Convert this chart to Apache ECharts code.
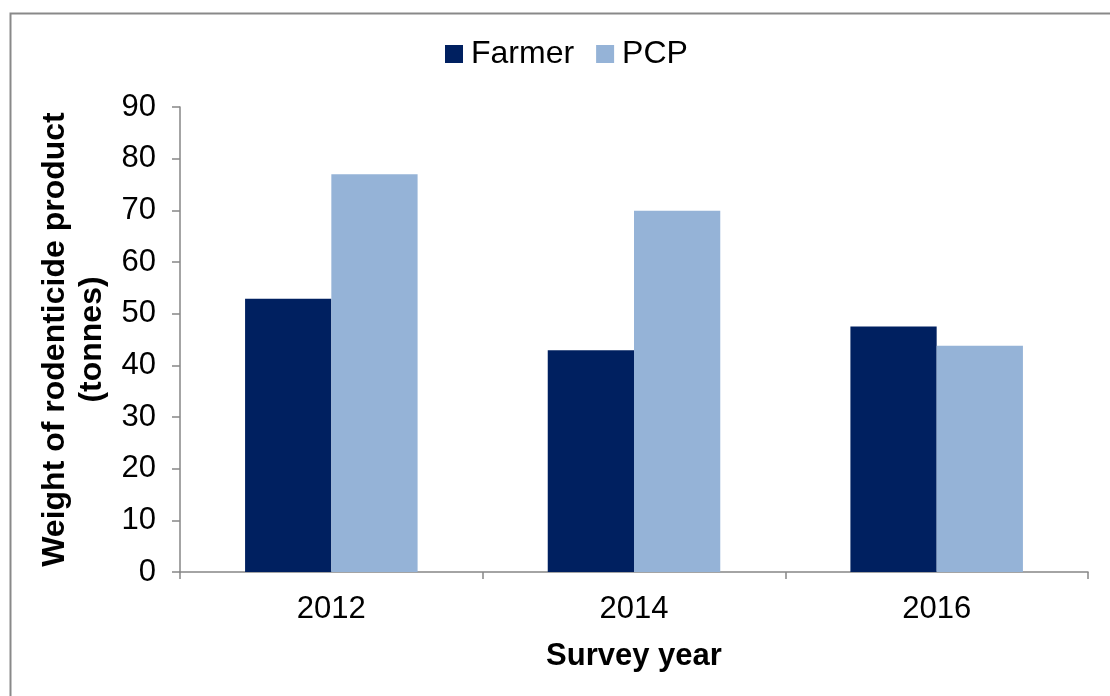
<!DOCTYPE html>
<html>
<head>
<meta charset="utf-8">
<script src="https://cdn.jsdelivr.net/npm/echarts@6/dist/echarts.min.js"></script>
<style>
html,body{margin:0;padding:0;background:#fff;}
#chart{width:1110px;height:696px;}
</style>
</head>
<body>
<div id="chart"></div>
<script>
const categories = ['2012', '2014', '2016'];
const farmer = [52.9, 42.9, 47.5];
const pcp = [77.0, 69.9, 43.8];
const seriesNames = ['Farmer', 'PCP'];
const yTitle = 'Weight of rodenticide product\n(tonnes)';
const xTitle = 'Survey year';

const chart = echarts.init(document.getElementById('chart'));
const font = 'Arial, "Liberation Sans", sans-serif';
chart.setOption({
  animation: false,
  backgroundColor: '#ffffff',
  textStyle: { fontFamily: font },
  graphic: [{
    type: 'rect', left: 8, top: 11, silent: true, z: -1,
    shape: { width: 1120, height: 720 },
    style: { fill: 'none', stroke: '#898989', lineWidth: 2 }
  }],
  legend: {
    top: 33, left: 440,
    itemWidth: 18, itemHeight: 18, itemGap: 22,
    icon: 'rect',
    textStyle: { fontSize: 32, color: '#000', fontFamily: font, padding: [0, 0, 0, 3] },
    data: seriesNames
  },
  grid: { left: 180, right: 22, top: 107, bottom: 124, containLabel: false },
  xAxis: {
    type: 'category', data: categories,
    name: xTitle, nameLocation: 'middle', nameGap: 69,
    nameTextStyle: { fontSize: 31, fontWeight: 'bold', color: '#000', fontFamily: font },
    axisLine: { lineStyle: { color: '#868686', width: 1.5 } },
    axisTick: { show: true, length: 7, lineStyle: { color: '#868686', width: 1.5 } },
    axisLabel: { fontSize: 31, color: '#000', margin: 22, fontFamily: font }
  },
  yAxis: {
    type: 'value', min: 0, max: 90, interval: 10,
    name: yTitle, nameLocation: 'middle', nameGap: 68, nameRotate: 90,
    nameTextStyle: { fontSize: 32, fontWeight: 'bold', color: '#000', lineHeight: 37, fontFamily: font, align: 'center' },
    axisLine: { show: true, lineStyle: { color: '#868686', width: 1.5 } },
    axisTick: { show: true, length: 8, lineStyle: { color: '#868686', width: 1.5 } },
    axisLabel: { fontSize: 31, color: '#000', margin: 24, fontFamily: font },
    splitLine: { show: false }
  },
  series: [
    { name: seriesNames[0], type: 'bar', data: farmer, barGap: '0%', barCategoryGap: '43%',
      itemStyle: { color: '#002060' } },
    { name: seriesNames[1], type: 'bar', data: pcp, barGap: '0%', barCategoryGap: '43%',
      itemStyle: { color: '#95B3D7' } }
  ]
});
</script>
</body>
</html>
